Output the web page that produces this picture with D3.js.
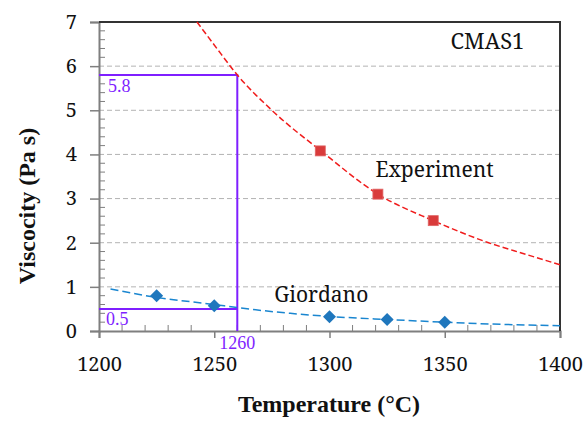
<!DOCTYPE html>
<html>
<head>
<meta charset="utf-8">
<script src="https://cdn.jsdelivr.net/npm/d3@7"></script>
<style>
  html, body { margin: 0; padding: 0; background: #fff; }
</style>
</head>
<body>
<svg id="chart" width="584" height="423"></svg>
<script>
// ---- data ----
const xTicks = [1200, 1250, 1300, 1350, 1400];
const yTicks = [0, 1, 2, 3, 4, 5, 6, 7];

// measured points
const expT   = [1296, 1321, 1345];
const expEta = [4.08, 3.10, 2.50];
const giT    = [1225, 1250, 1300, 1325, 1350];
const giEta  = [0.80, 0.57, 0.32, 0.26, 0.20];

// fitted curves (dashed)
const expFitT   = [1242.5, 1250, 1260, 1275, 1297, 1321, 1345, 1369, 1385, 1400];
const expFitEta = [7.00, 6.48, 5.80, 5.00, 4.05, 3.10, 2.50, 2.00, 1.74, 1.50];
const giFitT    = [1205, 1225, 1250, 1260, 1283, 1300, 1325, 1350, 1375, 1400];
const giFitEta  = [0.95, 0.76, 0.60, 0.53, 0.40, 0.33, 0.26, 0.20, 0.15, 0.12];

// read-off guide (purple)
const guideT = 1260;
const guideHi = 5.8, guideLo = 0.5;

// big regular Liberation Serif comes out as sans here -> Noto Serif for the larger text
const SERIF = "Noto Serif";
const TIMES = "Liberation Serif";
const svg = d3.select("#chart");
const L = 99, R = 560, T = 22, B = 331;
const x = d3.scaleLinear().domain([1200, 1400]).range([L, R]);
const y = d3.scaleLinear().domain([0, 7]).range([B, T]);

const purple = "#7f1fff";
const grey = "#7f7f7f";

function txt(px, py, s, size, color, fam) {
  return svg.append("text").attr("x", px).attr("y", py)
    .style("font-family", fam || SERIF).style("font-size", size + "px")
    .attr("fill", color || "#111").text(s);
}

// gridlines
svg.append("g").selectAll("line").data(yTicks.filter(d => d > 0 && d < 7)).join("line")
  .attr("x1", L).attr("x2", R).attr("y1", d => y(d)).attr("y2", d => y(d))
  .attr("stroke", "#b3b3b3").attr("stroke-width", 1).attr("stroke-dasharray", "5,3");

// minor ticks (inside)
const yMinor = d3.range(0, 7.001, 0.2).filter(d => Math.abs(d - Math.round(d)) > 0.01);
svg.append("g").selectAll("line").data(yMinor).join("line")
  .attr("x1", L).attr("x2", L + 6).attr("y1", d => y(d)).attr("y2", d => y(d))
  .attr("stroke", grey).attr("stroke-width", 1);
const xMinor = d3.range(1200, 1401, 10).filter(d => d % 50 !== 0);
svg.append("g").selectAll("line").data(xMinor).join("line")
  .attr("x1", d => x(d)).attr("x2", d => x(d)).attr("y1", B).attr("y2", B - 6)
  .attr("stroke", grey).attr("stroke-width", 1);

// axes
const yAxis = svg.append("g").attr("transform", `translate(${L},0)`)
  .call(d3.axisLeft(y).tickValues(yTicks).tickSize(9).tickPadding(13).tickFormat(d3.format("d")));
const xAxis = svg.append("g").attr("transform", `translate(0,${B})`)
  .call(d3.axisBottom(x).tickValues(xTicks).tickSize(7).tickPadding(19).tickFormat(d3.format("d")));
[yAxis, xAxis].forEach(g => {
  g.attr("font-family", SERIF).attr("font-size", 20);
  g.select(".domain").attr("stroke", grey).attr("stroke-width", 2);
  g.selectAll(".tick line").attr("stroke", grey).attr("stroke-width", 1.5);
  g.selectAll(".tick text").attr("fill", "#111")
    .style("font-family", SERIF).style("font-size", "20px");
});

// top / right frame
svg.append("path").attr("d", `M${L},${T}H${R}V${B}`)
  .attr("fill", "none").attr("stroke", "#333").attr("stroke-width", 2);

// purple guides
svg.append("path")
  .attr("d", `M${x(1200)},${y(guideHi)}H${x(guideT)}V${y(0)}M${x(1200)},${y(guideLo)}H${x(guideT)}`)
  .attr("fill", "none").attr("stroke", purple).attr("stroke-width", 2);
txt(x(1200) + 9, y(guideHi) + 17, String(guideHi), 18, purple, TIMES);
txt(x(1200) + 7, y(guideLo) + 16, String(guideLo), 18, purple, TIMES);
txt(x(guideT), B + 18, String(guideT), 18, purple, TIMES).attr("text-anchor", "middle");

// fitted curves
const line = d3.line().x(d => x(d[0])).y(d => y(d[1])).curve(d3.curveMonotoneX);
svg.append("path").datum(d3.zip(expFitT, expFitEta)).attr("d", line)
  .attr("fill", "none").attr("stroke", "#f01c1c").attr("stroke-width", 1.5)
  .attr("stroke-dasharray", "6,3");
svg.append("path").datum(d3.zip(giFitT, giFitEta)).attr("d", line)
  .attr("fill", "none").attr("stroke", "#1a86d0").attr("stroke-width", 1.5)
  .attr("stroke-dasharray", "8,4");

// markers
svg.append("g").selectAll("rect").data(d3.zip(expT, expEta)).join("rect")
  .attr("x", d => x(d[0]) - 5).attr("y", d => y(d[1]) - 5)
  .attr("width", 10).attr("height", 10)
  .attr("fill", "#d93b3b").attr("stroke", "#e06565").attr("stroke-width", 0.8);
svg.append("g").selectAll("path").data(d3.zip(giT, giEta)).join("path")
  .attr("d", d => `M${x(d[0])},${y(d[1]) - 6.5}l6.5,6.5l-6.5,6.5l-6.5,-6.5z`)
  .attr("fill", "#1f77bd");

// annotations
txt(x(1352.5), y(6.39), "CMAS1", 22);
txt(x(1320), y(3.49), "Experiment", 21);
txt(x(1276), y(0.66), "Giordano", 21);

// axis titles
svg.append("text").attr("x", 329).attr("y", 412).attr("text-anchor", "middle").attr("fill", "#111")
  .style("font-family", TIMES).style("font-size", "24px").style("font-weight", "bold")
  .text("Temperature (°C)");
svg.append("text").attr("transform", "translate(35,206) rotate(-90)")
  .attr("text-anchor", "middle").attr("fill", "#111")
  .style("font-family", TIMES).style("font-size", "24px").style("font-weight", "bold")
  .text("Viscocity (Pa s)");
</script>
</body>
</html>
